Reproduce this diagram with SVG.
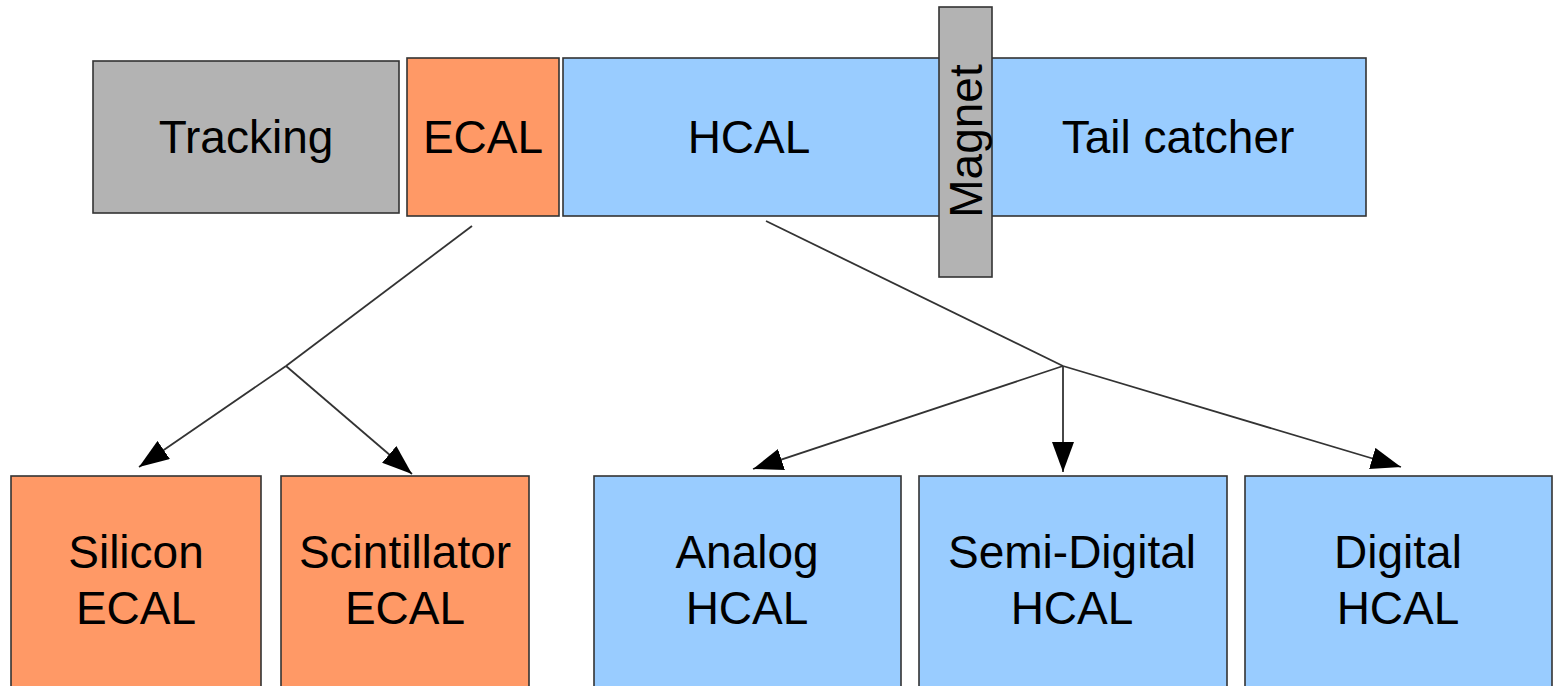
<svg xmlns="http://www.w3.org/2000/svg" width="1558" height="686" viewBox="0 0 1558 686">
  <style>
    .box { stroke: #333; stroke-width: 1.6; }
    .gray { fill: #b3b3b3; }
    .orange { fill: #ff9966; }
    .blue { fill: #99ccff; }
    .label { font-family: "Liberation Sans", Arial, sans-serif; font-size: 46px; fill: #000; text-anchor: middle; }
    .link { stroke: #333; stroke-width: 1.8; fill: none; }
  </style>
  <defs>
    <marker id="arrow" markerUnits="userSpaceOnUse" markerWidth="30" markerHeight="22" refX="30" refY="11" orient="auto">
      <path d="M0,0 L30,11 L0,22 z" fill="#000"/>
    </marker>
  </defs>
  <rect width="1558" height="686" fill="#fff"/>

  <!-- top row: detector layers -->
  <g id="tracking">
    <rect class="box gray" x="93" y="61" width="306" height="152"/>
    <text class="label" x="246" y="153">Tracking</text>
  </g>
  <g id="ecal">
    <rect class="box orange" x="407" y="58" width="152" height="158"/>
    <text class="label" x="483" y="153">ECAL</text>
  </g>
  <g id="hcal">
    <rect class="box blue" x="563" y="58" width="378" height="158"/>
    <text class="label" x="749" y="153">HCAL</text>
  </g>
  <g id="tail-catcher">
    <rect class="box blue" x="990" y="58" width="376" height="158"/>
    <text class="label" x="1178" y="153">Tail catcher</text>
  </g>
  <g id="magnet">
    <rect class="box gray" x="939" y="7" width="53" height="270"/>
    <text class="label" transform="translate(982,141) rotate(-90)">Magnet</text>
  </g>

  <!-- connectors -->
  <g id="connectors">
    <polyline class="link" points="472,226 286,366"/>
    <line class="link" x1="286" y1="366" x2="139" y2="467" marker-end="url(#arrow)"/>
    <line class="link" x1="286" y1="366" x2="412" y2="474" marker-end="url(#arrow)"/>
    <polyline class="link" points="766,221 1063,366"/>
    <line class="link" x1="1063" y1="366" x2="753" y2="469" marker-end="url(#arrow)"/>
    <line class="link" x1="1063" y1="366" x2="1063" y2="472" stroke="#000" marker-end="url(#arrow)"/>
    <line class="link" x1="1063" y1="366" x2="1401" y2="467" marker-end="url(#arrow)"/>
  </g>

  <!-- bottom row: technology options -->
  <g id="silicon-ecal">
    <rect class="box orange" x="11" y="476" width="250" height="230"/>
    <text class="label" x="136" y="568">Silicon</text>
    <text class="label" x="136" y="624">ECAL</text>
  </g>
  <g id="scintillator-ecal">
    <rect class="box orange" x="281" y="476" width="248" height="230"/>
    <text class="label" x="405" y="568">Scintillator</text>
    <text class="label" x="405" y="624">ECAL</text>
  </g>
  <g id="analog-hcal">
    <rect class="box blue" x="594" y="476" width="307" height="230"/>
    <text class="label" x="747" y="568">Analog</text>
    <text class="label" x="747" y="624">HCAL</text>
  </g>
  <g id="semi-digital-hcal">
    <rect class="box blue" x="919" y="476" width="308" height="230"/>
    <text class="label" x="1072" y="568">Semi-Digital</text>
    <text class="label" x="1072" y="624">HCAL</text>
  </g>
  <g id="digital-hcal">
    <rect class="box blue" x="1245" y="476" width="307" height="230"/>
    <text class="label" x="1398" y="568">Digital</text>
    <text class="label" x="1398" y="624">HCAL</text>
  </g>
</svg>
